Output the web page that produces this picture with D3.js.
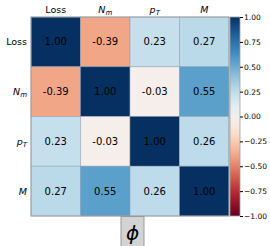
<!DOCTYPE html>
<html>
<head>
<meta charset="utf-8">
<script src="https://cdn.jsdelivr.net/npm/d3@7"></script>
<style>
  body { margin: 0; background: #fff; }
  text { font-family: "DejaVu Sans", sans-serif; }
</style>
</head>
<body>
<div id="chart"></div>
<script>
const variables = ["Loss", "Nm", "pT", "M"];
const corrRows = [
  [1.00, -0.39, 0.23, 0.27],
  [-0.39, 1.00, -0.03, 0.55],
  [0.23, -0.03, 1.00, 0.26],
  [0.27, 0.55, 0.26, 1.00]
];
const colorbarTicks = [1.00, 0.75, 0.50, 0.25, 0.00, -0.25, -0.50, -0.75, -1.00];

const width = 270, height = 246;
const mLeft = 31, mRight = 229, mTop = 17, mBottom = 216;

let svg = d3.select("#chart")
  .append("svg")
  .attr("width", width)
  .attr("height", height);

let x = d3.scaleBand().domain(variables).range([mLeft, mRight]);
let y = d3.scaleBand().domain(variables).range([mTop, mBottom]);
let color = v => d3.interpolateRdBu((v + 1) / 2);

let cells = [];
corrRows.forEach((row, i) => {
  row.forEach((v, j) => {
    cells.push({ row: variables[i], col: variables[j], value: v });
  });
});

svg.append("g")
  .selectAll("rect")
  .data(cells)
  .join("rect")
  .attr("x", d => x(d.col))
  .attr("y", d => y(d.row))
  .attr("width", x.bandwidth())
  .attr("height", y.bandwidth())
  .attr("fill", d => color(d.value))
  .attr("stroke", "#8a9bb0")
  .attr("stroke-opacity", 0.6)
  .attr("stroke-width", 0.8);

svg.append("g")
  .selectAll("text")
  .data(cells)
  .join("text")
  .attr("x", d => x(d.col) + x.bandwidth() / 2)
  .attr("y", d => y(d.row) + y.bandwidth() / 2)
  .attr("text-anchor", "middle")
  .attr("dominant-baseline", "central")
  .attr("font-size", "10px")
  .attr("fill", "#000")
  .text(d => d.value.toFixed(2));

// outer frame
svg.append("rect")
  .attr("x", mLeft).attr("y", mTop)
  .attr("width", mRight - mLeft).attr("height", mBottom - mTop)
  .attr("fill", "none")
  .attr("stroke", "#a0a0a0")
  .attr("stroke-width", 1);

// axis labels, mathtext style
function label(sel, name) {
  if (name === "Loss") { sel.text("Loss"); return; }
  let main = name[0], sub = name.slice(1);
  sel.append("tspan").attr("font-style", "italic").text(main);
  sel.append("tspan").attr("font-style", "italic").attr("font-size", "7px")
    .attr("dy", "2").text(sub);
}

svg.append("g")
  .selectAll("text")
  .data(variables)
  .join("text")
  .attr("x", d => x(d) + x.bandwidth() / 2)
  .attr("y", 13)
  .attr("text-anchor", "middle")
  .attr("font-size", "9.5px")
  .each(function (d) { label(d3.select(this), d); });

svg.append("g")
  .selectAll("text")
  .data(variables)
  .join("text")
  .attr("x", 27)
  .attr("y", d => y(d) + y.bandwidth() / 2 + 3.5)
  .attr("text-anchor", "end")
  .attr("font-size", "9.5px")
  .each(function (d) { label(d3.select(this), d); });

// colorbar
let cbX = 230, cbW = 10;
let cb = d3.scaleLinear().domain([-1, 1]).range([mBottom, mTop]);

let defs = svg.append("defs");
let grad = defs.append("linearGradient")
  .attr("id", "cbgrad")
  .attr("x1", 0).attr("y1", 1).attr("x2", 0).attr("y2", 0);
d3.range(0, 1.0001, 0.05).forEach(t => {
  grad.append("stop").attr("offset", t).attr("stop-color", d3.interpolateRdBu(t));
});

svg.append("rect")
  .attr("x", cbX).attr("y", mTop)
  .attr("width", cbW).attr("height", mBottom - mTop)
  .attr("fill", "url(#cbgrad)")
  .attr("stroke", "#a0a0a0")
  .attr("stroke-width", 0.8);

let cbAxis = d3.axisRight(cb)
  .tickValues(colorbarTicks)
  .tickSize(3)
  .tickPadding(1)
  .tickFormat(d => d3.format(".2f")(d).replace("-", "\u2212"));

svg.append("g")
  .attr("transform", `translate(${cbX + cbW},0)`)
  .call(cbAxis)
  .call(g => g.select(".domain").remove())
  .call(g => g.selectAll("text").attr("font-size", "7.5px").attr("font-family", "DejaVu Sans"));

// phi tag below the heatmap
svg.append("rect")
  .attr("x", 121).attr("y", 216.5)
  .attr("width", 23).attr("height", 34)
  .attr("fill", "#d3d3d3")
  .attr("stroke", "#999")
  .attr("stroke-width", 1);

svg.append("text")
  .attr("x", 132.5)
  .attr("y", 240)
  .attr("text-anchor", "middle")
  .attr("font-size", "20px")
  .attr("font-style", "italic")
  .text("\u03d5");
</script>
</body>
</html>
